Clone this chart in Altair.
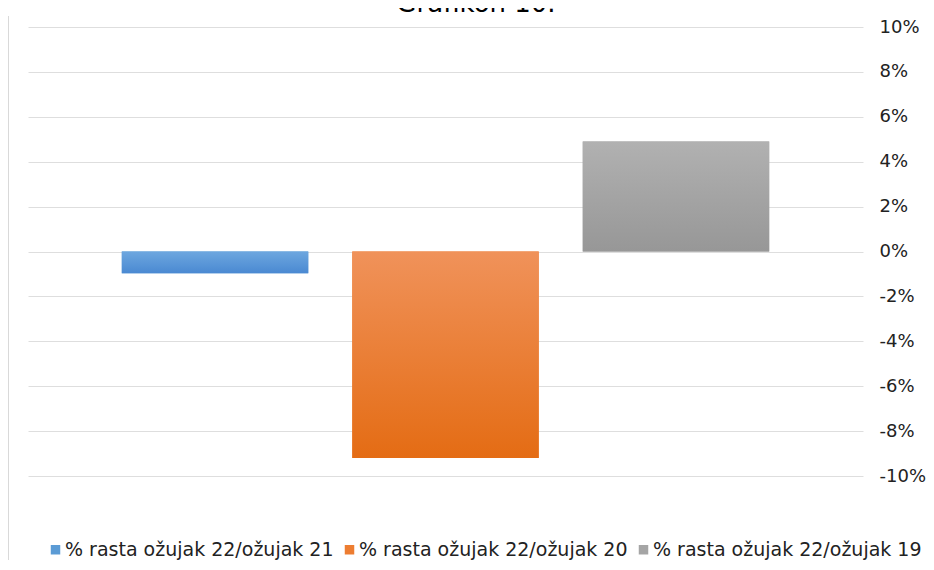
import altair as alt
import pandas as pd

series = ["% rasta ožujak 22/ožujak 21", "% rasta ožujak 22/ožujak 20", "% rasta ožujak 22/ožujak 19"]
values = [-0.97, -9.2, 4.9]
legend_colors = ["#5B9BD5", "#ED7D31", "#A5A5A5"]
grad_top = ["#6DA7DF", "#F0925A", "#B1B1B1"]
grad_bottom = ["#4A89D2", "#E46C14", "#979797"]
y_ticks = [-10, -8, -6, -4, -2, 0, 2, 4, 6, 8, 10]
title_text = "Grafikon 10."

df = pd.DataFrame({"series": series, "value": values})

W, H = 835, 449
FONT = "DejaVu Sans"

x_enc = alt.X("series:N", sort=series, axis=None,
              scale=alt.Scale(paddingInner=0.191, paddingOuter=0.407))
y_enc = alt.Y("value:Q",
              scale=alt.Scale(domain=[-10, 10], nice=False, zero=False),
              axis=alt.Axis(orient="right", values=y_ticks, labelExpr="datum.value + '%'",
                            domain=False, ticks=False, labelPadding=16, labelAlign="left",
                            labelFont=FONT, labelFontSize=18, labelColor="#222222",
                            grid=True, gridColor="#DEDEDE", gridWidth=1, title=None))

base = alt.Chart(df).mark_bar().encode(
    x=x_enc,
    y=y_enc,
    y2=alt.datum(0),
    color=alt.Color("series:N", sort=series,
                    scale=alt.Scale(domain=series, range=legend_colors),
                    legend=alt.Legend(orient="none", legendX=18, legendY=513,
                                      direction="horizontal", columns=3, title=None,
                                      symbolType="square", symbolSize=90,
                                      symbolStrokeWidth=0, symbolOpacity=1,
                                      labelFont=FONT, labelFontSize=19, labelColor="#222222",
                                      labelOffset=0, columnPadding=6, labelLimit=400)),
)

layers = [base]
for s, t, b in zip(series, grad_top, grad_bottom):
    g = alt.Gradient(gradient="linear",
                     stops=[alt.GradientStop(color=t, offset=0), alt.GradientStop(color=b, offset=1)],
                     x1=0, x2=0, y1=0, y2=1)
    layers.append(
        alt.Chart(df).transform_filter(alt.datum.series == s).mark_bar(color=g).encode(
            x=x_enc, y=y_enc, y2=alt.datum(0)
        )
    )

title = alt.Chart(pd.DataFrame({"t": [title_text]})).mark_text(
    font=FONT, fontSize=26, color="#000000", align="center", baseline="alphabetic"
).encode(x=alt.value(448), y=alt.value(-15), text="t:N")

frame = alt.Chart(pd.DataFrame({"a": [0]})).mark_rule(color="#D9D9D9", strokeWidth=1).encode(
    x=alt.value(-19.5), y=alt.value(-11), y2=alt.value(540)
)

chart = alt.layer(*layers, title, frame).properties(
    width=W, height=H, padding={"left": 20, "top": 19, "right": 63, "bottom": 84},
    autosize=alt.AutoSizeParams(type="none"),
).configure(background="#FFFFFF").configure_view(stroke=None)

chart.save("out.html", embed_options={"renderer": "svg", "actions": False})
